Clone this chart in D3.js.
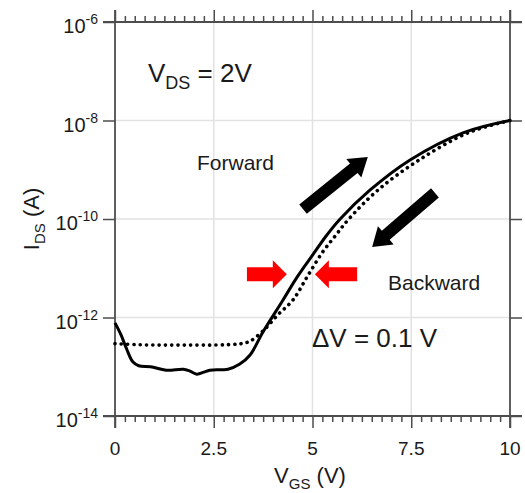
<!DOCTYPE html>
<html><head><meta charset="utf-8">
<script src="https://cdn.jsdelivr.net/npm/d3@7"></script>
<style>
html,body{margin:0;padding:0;background:#fff}
svg{display:block}
text{font-family:"Liberation Sans",Arial,sans-serif;fill:#1a1a1a}
</style>
</head><body>
<svg id="chart" width="525" height="493"></svg>
<script>
// ---- data (V_GS in volts, I_DS as log10 of amperes) ----
const vgsForward   = [0, 0.15, 0.3, 0.45, 0.6, 0.9, 1.3, 1.73, 1.9, 2.07, 2.25, 2.4, 2.86, 3.15, 3.42, 3.75, 4.25, 4.61, 5.04, 5.34, 5.70, 6.46, 7.47, 8.81, 10];
const logIForward  = [-12.11, -12.35, -12.65, -12.9, -12.98, -13.0, -13.07, -13.05, -13.09, -13.15, -13.11, -13.07, -13.05, -12.95, -12.76, -12.29, -11.65, -11.18, -10.69, -10.35, -10.0, -9.41, -8.8, -8.25, -8.0];
const vgsBackward  = [0, 0.5, 1.0, 1.5, 2.0, 2.5, 2.9, 3.2, 3.42, 3.75, 4.13, 4.51, 4.86, 5.24, 5.57, 5.92, 6.66, 7.70, 8.94, 10];
const logIBackward = [-12.53, -12.55, -12.56, -12.56, -12.56, -12.56, -12.55, -12.53, -12.48, -12.27, -11.94, -11.64, -11.18, -10.69, -10.35, -10.0, -9.41, -8.8, -8.25, -8.0];

const xMajorTicks  = [0, 2.5, 5, 7.5, 10];
const xTickLabels  = ["0", "2.5", "5", "7.5", "10"];
const yMajorExps   = [-14, -12, -10, -8, -6];
const yTickLabels  = ["-14", "-12", "-10", "-8", "-6"];
const gridX        = [2.5, 5, 7.5];
const gridY        = [-12, -10, -8];

// annotation anchors in data coordinates
const fwdArrow  = {from: [4.76, -9.80], to: [6.40, -8.74]};
const bwdArrow  = {from: [8.10, -9.47], to: [6.51, -10.57]};
const redLeft   = {from: [3.34, -11.12], to: [4.35, -11.12]};
const redRight  = {from: [6.13, -11.12], to: [5.06, -11.12]};

// ---- layout ----
const svg = d3.select("#chart");
const x = d3.scaleLinear().domain([0, 10]).range([115, 510]);
const y = d3.scaleLinear().domain([-14, -6]).range([416, 22]);
const X0 = x(0), X1 = x(10), Y0 = y(-14), Y1 = y(-6);
const ext = 12, axisColor = "#4d4d4d";

// gridlines
svg.append("g").selectAll("line").data(gridX).join("line")
  .attr("x1", d => x(d)).attr("x2", d => x(d)).attr("y1", Y1).attr("y2", Y0)
  .attr("stroke", "#e2e2e2").attr("stroke-width", 1.5);
svg.append("g").selectAll("line").data(gridY).join("line")
  .attr("y1", d => y(d)).attr("y2", d => y(d)).attr("x1", X0).attr("x2", X1)
  .attr("stroke", "#e2e2e2").attr("stroke-width", 1.5);

// minor ticks every 0.25 V
const xMinor = d3.range(0, 10.001, 0.25).filter(v => Math.abs(v / 2.5 - Math.round(v / 2.5)) > 1e-6);

function styleAxis(g) {
  g.select(".domain").remove();
  g.selectAll("line").attr("stroke", axisColor).attr("stroke-width", 1.5);
  g.selectAll("text").remove();
}
svg.append("g").attr("transform", `translate(0,${Y0})`)
  .call(d3.axisBottom(x).tickValues(xMinor).tickSize(6).tickFormat("")).call(styleAxis);
svg.append("g").attr("transform", `translate(0,${Y0})`)
  .call(d3.axisBottom(x).tickValues(xMajorTicks).tickSize(12).tickFormat("")).call(styleAxis);
svg.append("g").attr("transform", `translate(0,${Y1})`)
  .call(d3.axisTop(x).tickValues(xMinor).tickSize(6).tickFormat("")).call(styleAxis);
svg.append("g").attr("transform", `translate(0,${Y1})`)
  .call(d3.axisTop(x).tickValues(xMajorTicks).tickSize(12).tickFormat("")).call(styleAxis);
svg.append("g").attr("transform", `translate(${X0},0)`)
  .call(d3.axisLeft(y).tickValues(yMajorExps).tickSize(12).tickFormat("")).call(styleAxis);
svg.append("g").attr("transform", `translate(${X1},0)`)
  .call(d3.axisRight(y).tickValues(yMajorExps).tickSize(12).tickFormat("")).call(styleAxis);

// frame lines (extended beyond corners)
const frame = svg.append("g").attr("stroke", axisColor).attr("stroke-width", 1.8);
frame.append("line").attr("x1", X0).attr("x2", X0).attr("y1", Y1 - ext).attr("y2", Y0 + ext);
frame.append("line").attr("x1", X1).attr("x2", X1).attr("y1", Y1 - ext).attr("y2", Y0 + ext);
frame.append("line").attr("x1", X0 - ext).attr("x2", X1 + ext).attr("y1", Y1).attr("y2", Y1);
frame.append("line").attr("x1", X0 - ext).attr("x2", X1 + ext).attr("y1", Y0).attr("y2", Y0);

// x tick labels
svg.append("g").selectAll("text").data(xMajorTicks).join("text")
  .attr("x", d => x(d)).attr("y", Y0 + 39).attr("text-anchor", "middle")
  .attr("font-size", 19).text((d, i) => xTickLabels[i]);

// y tick labels 10^n
const yl = svg.append("g").selectAll("text").data(yMajorExps).join("text")
  .attr("x", X0 - 17).attr("y", d => y(d) + 11).attr("text-anchor", "end").attr("font-size", 20);
yl.append("tspan").text("10");
yl.append("tspan").attr("dy", -9).attr("font-size", 14).text((d, i) => yTickLabels[i]);

// axis titles
const xt = svg.append("text").attr("x", 310).attr("y", 483).attr("text-anchor", "middle").attr("font-size", 22);
xt.append("tspan").text("V");
xt.append("tspan").attr("dy", 6).attr("font-size", 15).text("GS");
xt.append("tspan").attr("dy", -6).text(" (V)");

const yt = svg.append("text").attr("transform", `translate(39,${(Y0 + Y1) / 2}) rotate(-90)`)
  .attr("text-anchor", "middle").attr("font-size", 22);
yt.append("tspan").text("I");
yt.append("tspan").attr("dy", 6).attr("font-size", 15).text("DS");
yt.append("tspan").attr("dy", -6).text(" (A)");

// curves
const line = d3.line().x(d => x(d[0])).y(d => y(d[1])).curve(d3.curveCatmullRom.alpha(0.5));
const fwd = vgsForward.map((v, i) => [v, logIForward[i]]);
const bwd = vgsBackward.map((v, i) => [v, logIBackward[i]]);

svg.append("path").datum(bwd).attr("d", line).attr("fill", "none")
  .attr("stroke", "#000").attr("stroke-width", 3.6).attr("stroke-linecap", "round")
  .attr("stroke-dasharray", "0.1 6.2");
svg.append("path").datum(fwd).attr("d", line).attr("fill", "none")
  .attr("stroke", "#000").attr("stroke-width", 3).attr("stroke-linejoin", "round");

// block arrows
function blockArrow(a, bodyW, headW, headL, color) {
  const [x0, y0] = [x(a.from[0]), y(a.from[1])];
  const [x1, y1] = [x(a.to[0]), y(a.to[1])];
  const L = Math.hypot(x1 - x0, y1 - y0);
  const ux = (x1 - x0) / L, uy = (y1 - y0) / L, px = -uy, py = ux;
  const bx = x1 - ux * headL, by = y1 - uy * headL;
  const pts = [
    [x0 + px * bodyW / 2, y0 + py * bodyW / 2],
    [bx + px * bodyW / 2, by + py * bodyW / 2],
    [bx + px * headW / 2, by + py * headW / 2],
    [x1, y1],
    [bx - px * headW / 2, by - py * headW / 2],
    [bx - px * bodyW / 2, by - py * bodyW / 2],
    [x0 - px * bodyW / 2, y0 - py * bodyW / 2]
  ];
  svg.append("polygon").attr("points", pts.map(p => p.join(",")).join(" ")).attr("fill", color);
}
blockArrow(fwdArrow, 12, 24, 18, "#000");
blockArrow(bwdArrow, 12, 24, 18, "#000");
blockArrow(redLeft, 14, 28, 14, "#ff0000");
blockArrow(redRight, 14, 28, 14, "#ff0000");

// annotations
const vds = svg.append("text").attr("x", x(0.835)).attr("y", y(-7.218)).attr("font-size", 26);
vds.append("tspan").text("V");
vds.append("tspan").attr("dy", 7).attr("font-size", 18).text("DS");
vds.append("tspan").attr("dy", -7).text(" = 2V");

svg.append("text").attr("x", x(2.076)).attr("y", y(-9.005)).attr("font-size", 21).text("Forward");
svg.append("text").attr("x", x(6.911)).attr("y", y(-11.44)).attr("font-size", 21).text("Backward");
svg.append("text").attr("x", x(4.987)).attr("y", y(-12.6)).attr("font-size", 26).text("ΔV = 0.1 V");
</script>
</body></html>
